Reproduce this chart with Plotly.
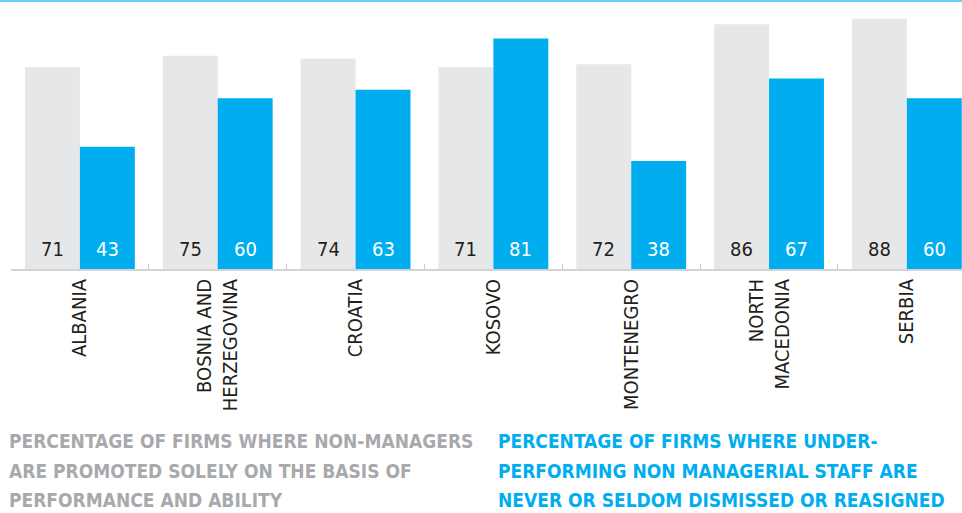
import plotly.graph_objects as go

categories = ["ALBANIA", "BOSNIA AND<br>HERZEGOVINA", "CROATIA", "KOSOVO",
              "MONTENEGRO", "NORTH<br>MACEDONIA", "SERBIA"]
promoted = [71, 75, 74, 71, 72, 86, 88]
not_dismissed = [43, 60, 63, 81, 38, 67, 60]
legend_gray_lines = ["PERCENTAGE OF FIRMS WHERE NON-MANAGERS",
                     "ARE PROMOTED SOLELY ON THE BASIS OF",
                     "PERFORMANCE AND ABILITY"]
legend_blue_lines = ["PERCENTAGE OF FIRMS WHERE UNDER-",
                     "PERFORMING NON MANAGERIAL STAFF ARE",
                     "NEVER OR SELDOM DISMISSED OR REASIGNED"]

GRAY = "#e6e7e8"
BLUE = "#00aeef"
FONT = "DejaVu Sans Condensed, Liberation Sans Narrow, Roboto, sans-serif"

W, H = 962, 513
L, R, T, B = 11, 0, 2, 244
pw, ph = W - L - R, H - T - B

def px_to_paper(px, py):
    return (px - L) / pw, (H - B - py) / ph

fig = go.Figure()
fig.add_bar(x=categories, y=promoted, marker_color=GRAY, marker_line_width=0, name="promoted")
fig.add_bar(x=categories, y=not_dismissed, marker_color=BLUE, marker_line_width=0, name="dismissed")

ann = []
for c, v in zip(categories, promoted):
    ann.append(dict(x=c, y=0, xref="x", yref="y", text=str(v), showarrow=False,
                    xshift=-27.5, yshift=6, yanchor="bottom",
                    font=dict(family=FONT, size=20, color="#231f20")))
for c, v in zip(categories, not_dismissed):
    ann.append(dict(x=c, y=0, xref="x", yref="y", text=str(v), showarrow=False,
                    xshift=27.5, yshift=6, yanchor="bottom",
                    font=dict(family=FONT, size=20, color="white")))

line_y = [441, 471, 500]
for lines, x0, col in [(legend_gray_lines, 7, "#a7a9ac"), (legend_blue_lines, 496, BLUE)]:
    for txt, yc in zip(lines, line_y):
        xp, yp = px_to_paper(x0, yc)
        ann.append(dict(x=xp, y=yp, xref="paper", yref="paper", text="<b>" + txt + "</b>",
                        showarrow=False, align="left", xanchor="left", yanchor="middle",
                        font=dict(family=FONT, size=19, color=col)))

fig.update_layout(
    width=W, height=H,
    margin=dict(l=L, r=R, t=T, b=B, autoexpand=False),
    paper_bgcolor="white", plot_bgcolor="white",
    barmode="group", bargap=0.203, bargroupgap=0,
    showlegend=False,
    annotations=ann,
    shapes=[dict(type="line", xref="paper", yref="paper", x0=-L / pw, x1=1,
                 y0=1 + 1 / ph, y1=1 + 1 / ph, line=dict(color="#6dcff6", width=2))],
    xaxis=dict(range=[-0.5, 6.4], showline=True, linecolor="#d1d3d4", linewidth=2,
               ticks="inside", tickson="boundaries", ticklen=5, tickcolor="#c7c8ca",
               tickangle=-90, tickfont=dict(family=FONT, size=20, color="#231f20"),
               showgrid=False, zeroline=False, automargin=False),
    yaxis=dict(range=[0, 93.85], visible=False, showgrid=False, zeroline=False),
)

fig.write_html("out.html", config={"displayModeBar": False},
               post_script="document.body.style.margin='0';document.body.style.overflow='hidden';")
